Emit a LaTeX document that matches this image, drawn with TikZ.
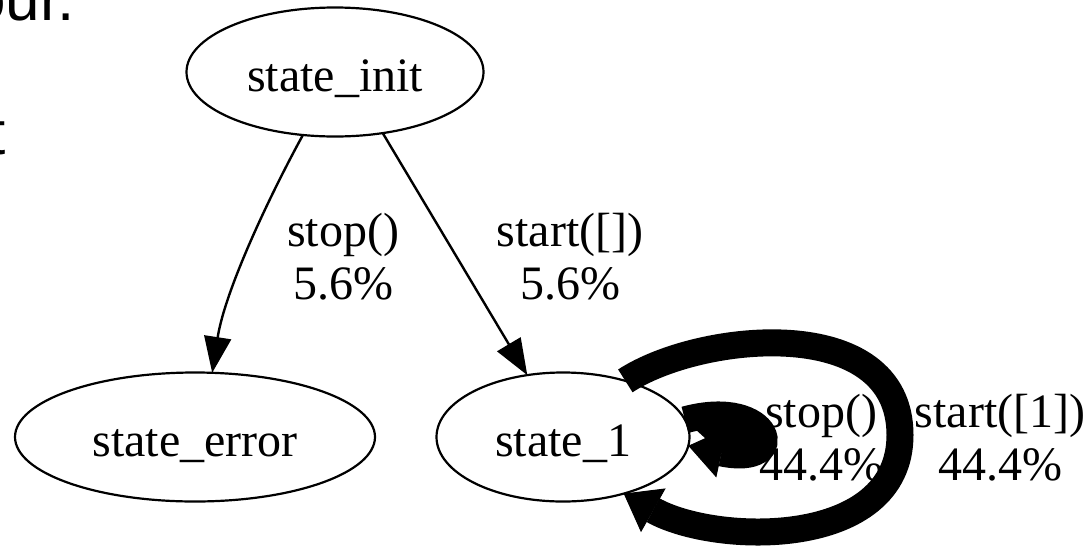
\documentclass[tikz,border=0pt]{standalone}
\usepackage{fontspec}
\setmainfont{Liberation Serif}
\newfontfamily\slidefont{Liberation Sans}
\usetikzlibrary{arrows.meta,shapes.geometric}

\begin{document}
\begin{tikzpicture}[x=1pt,y=-1pt,
  state/.style={ellipse, draw, line width=2.2pt, inner sep=0pt, outer sep=0pt,
    minimum height=129pt, text height=38pt, text depth=0pt,
    font=\fontsize{48}{53}\selectfont},
  edge/.style={line width=2.4pt, -{Triangle[length=36pt 0, width=27pt 0]}},
  heavy/.style={line width=27pt,
    -{Triangle[length=34pt 0, width=50pt 0, line width=1pt 0]}},
  lbl/.style={align=center, inner sep=0pt, font=\fontsize{48}{53}\selectfont},
  slide/.style={inner sep=0pt, font=\slidefont\fontsize{62}{72}\selectfont}
]
% page frame
\useasboundingbox (0,0) rectangle (1084,547);
\clip (0,0) rectangle (1084,547);
\fill[white] (0,0) rectangle (1084,547);

% fragments of the surrounding slide text
\node[slide, anchor=base west] (w1) at (-29,20) {our.};
\node[slide, anchor=base west] (w2) at (-12,154) {t};

% states
\node[state, minimum width=297pt] (si) at (335,72)  {state\_init};
\node[state, minimum width=360pt] (se) at (195,437) {state\_error};
\node[state, minimum width=253pt] (s1) at (563,437) {state\_1};

% transitions out of the initial state
\draw[edge] (si.-117) .. controls (270,195) and (225,290) .. (se.75);
\draw[edge] (si.-52) -- (s1.120);
\node[lbl] (l1) at (343,257) {stop()\\5.6\%};
\node[lbl] (l2) at (570,257) {start([])\\5.6\%};

% self loops on state_1 (the short loop closes up into a solid blob)
\draw[heavy] (s1.42) .. controls (700,332) and (900,312) .. (900,435)
             .. controls (900,550) and (715,545) .. (s1.-43);
\draw[heavy, fill=black] (s1.8) .. controls (772,396) and (792,468) .. (s1.-4);
\node[lbl] (l3) at (821,438) {stop()\\44.4\%};
\node[lbl] (l4) at (1000,438) {start([1])\\44.4\%};
\end{tikzpicture}
\end{document}
